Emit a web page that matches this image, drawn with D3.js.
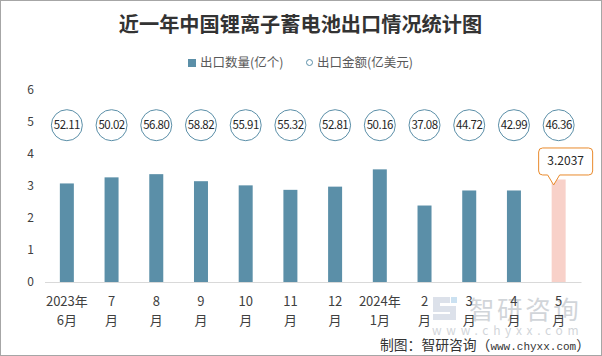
<!DOCTYPE html>
<html lang="en">
<head>
<meta charset="utf-8">
<script src="https://d3js.org/d3.v7.min.js"></script>
<style>
    html, body { margin: 0; padding: 0; background: #fff; }
    svg { display: block; font-family: "Noto Sans CJK SC", "Noto Sans", sans-serif; }
</style>
</head>
<body>
<div id="container"></div>
<script>
    const months = ["2023年|6月", "7|月", "8|月", "9|月", "10|月", "11|月", "12|月", "2024年|1月", "2|月", "3|月", "4|月", "5|月"];
    const quantity = [3.08, 3.27, 3.37, 3.15, 3.02, 2.88, 2.98, 3.52, 2.39, 2.86, 2.86, 3.2037];
    const amount = ["52.11", "50.02", "56.80", "58.82", "55.91", "55.32", "52.81", "50.16", "37.08", "44.72", "42.99", "46.36"];
    // the amount series is drawn on a flat line near the top of the axis
    const amountLevel = [4.9, 4.9, 4.9, 4.9, 4.9, 4.9, 4.9, 4.9, 4.9, 4.9, 4.9, 4.9];
    const yTicks = [0, 1, 2, 3, 4, 5, 6];

    var width = 602,
        height = 356,
        textColor = "#404040",
        barColor = "#5b8fa8",
        lastColor = "#f8d1c9",
        orange = "#e98a2c";

    var svg = d3.select("#container").append("svg")
        .attr("width", width)
        .attr("height", height);

    svg.append("rect")
        .attr("x", 0.5).attr("y", 0.5)
        .attr("width", width - 1).attr("height", height - 1)
        .attr("fill", "#fff")
        .attr("stroke", "#a6a6a6");

    var x = d3.scaleBand().domain(months).range([44.5, 581]).paddingInner(0.687).paddingOuter(0.3435);
    var y = d3.scaleLinear().domain([0, 6]).range([282, 90]);

    // watermark goes first, the month labels sit on top of it
    var mark = svg.append("g").attr("opacity", 0.4).attr("fill", "#8f98a3");
    mark.append("path")
        .attr("d", "M433,297 H450 V303 H440 V306 H456 V320 H433 V314 H450 V312 H433 Z")
        .attr("fill", "#a9b6cc");
    mark.append("rect").attr("x", 451).attr("y", 297).attr("width", 6).attr("height", 6).attr("fill", "#7fb6de");
    mark.append("text")
        .attr("x", 469).attr("y", 319)
        .attr("font-size", 25.5)
        .attr("letter-spacing", 2.6)
        .text("智研咨询");
    mark.append("text")
        .attr("x", 432).attr("y", 335)
        .attr("font-size", 12)
        .attr("letter-spacing", 4.7)
        .text("www.chyxx.com");

    // title
    svg.append("text")
        .attr("x", 300.5).attr("y", 32)
        .attr("text-anchor", "middle")
        .attr("font-size", 20.2)
        .attr("font-weight", 700)
        .attr("fill", "#333")
        .text("近一年中国锂离子蓄电池出口情况统计图");

    // legend
    var legend = svg.append("g").attr("font-size", 12.5).attr("fill", "#595959");
    legend.append("rect")
        .attr("x", 188).attr("y", 59)
        .attr("width", 8).attr("height", 8)
        .attr("fill", barColor);
    legend.append("text").attr("x", 200).attr("y", 67).text("出口数量(亿个)");
    legend.append("circle")
        .attr("cx", 309.5).attr("cy", 62.5).attr("r", 3)
        .attr("fill", "#fff")
        .attr("stroke", barColor);
    legend.append("text").attr("x", 317).attr("y", 67).text("出口金额(亿美元)");

    // y axis
    var yAxis = svg.append("g")
        .attr("transform", "translate(36,0)")
        .call(d3.axisLeft(y).tickValues(yTicks).tickSize(0).tickPadding(2).tickFormat(d3.format("d")));
    yAxis.select(".domain").remove();
    yAxis.selectAll("text")
        .attr("font-size", 12)
        .attr("font-family", "\"Noto Sans CJK SC\", sans-serif")
        .attr("fill", textColor);

    // bars
    svg.selectAll(".bar")
        .data(quantity)
        .enter().append("rect")
        .attr("class", "bar")
        .attr("x", (d, i) => x(months[i]))
        .attr("y", d => y(d))
        .attr("width", x.bandwidth())
        .attr("height", d => y(0) - y(d))
        .attr("fill", (d, i) => i === quantity.length - 1 ? lastColor : barColor);

    // x axis
    var xAxis = svg.append("g")
        .attr("transform", "translate(0," + y(0) + ")")
        .call(d3.axisBottom(x).tickSize(0).tickFormat(""));
    xAxis.select(".domain").attr("stroke", "#d9d9d9").attr("stroke-width", 1);
    xAxis.selectAll(".tick text").each(function(d) {
        var parts = d.split("|");
        var t = d3.select(this)
            .attr("font-size", 13)
            .attr("font-family", "\"Noto Sans CJK SC\", sans-serif")
            .attr("fill", textColor)
            .attr("y", 0)
            .attr("dy", null);
        t.selectAll("tspan").data(parts).enter().append("tspan")
            .attr("x", 0)
            .attr("y", (p, i) => 24 + i * 19)
            .text(p => p);
    });

    // amount bubbles
    var bubble = svg.selectAll(".bubble")
        .data(amount)
        .enter().append("g")
        .attr("class", "bubble")
        .attr("transform", (d, i) => "translate(" + (x(months[i]) + x.bandwidth() / 2) + "," + y(amountLevel[i]) + ")");
    bubble.append("circle")
        .attr("r", 15.5)
        .attr("fill", "#fff")
        .attr("stroke", barColor);
    bubble.append("text")
        .attr("text-anchor", "middle")
        .attr("y", 4)
        .attr("font-size", 11.5)
        .attr("letter-spacing", -0.5)
        .attr("fill", "#262626")
        .text(d => d);

    // callout on the last bar
    var last = quantity.length - 1,
        tipX = x(months[last]) + x.bandwidth() / 2 - 5,
        tipY = y(quantity[last]) + 5.5;
    var callout = svg.append("g").attr("transform", "translate(" + tipX + "," + tipY + ")");
    callout.append("path")
        .attr("d", "M0,0 L-6,-10 H-11 Q-15,-10 -15,-14 V-33 Q-15,-37 -11,-37 H35 Q39,-37 39,-33 V-14 Q39,-10 35,-10 H6 Z")
        .attr("fill", "#fff")
        .attr("stroke", orange);
    callout.append("text")
        .attr("x", 12).attr("y", -19.5)
        .attr("text-anchor", "middle")
        .attr("font-size", 12)
        .attr("fill", "#262626")
        .text(d3.format(".4f")(quantity[last]));

    // source
    var source = svg.append("text")
        .attr("x", 380).attr("y", 350)
        .attr("font-size", 13.8)
        .attr("fill", "#333");
    source.append("tspan").text("制图\uFF1A智研咨询\uFF08");
    source.append("tspan")
        .attr("font-family", "\"Liberation Mono\", monospace")
        .attr("font-size", 11)
        .text("www.chyxx.com");
    source.append("tspan").text("\uFF09");
</script>
</body>
</html>
